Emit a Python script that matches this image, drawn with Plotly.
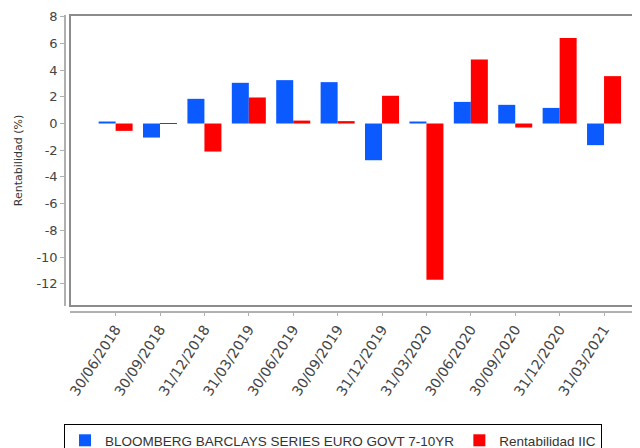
import plotly.graph_objects as go

categories = ["30/06/2018", "30/09/2018", "31/12/2018", "31/03/2019", "30/06/2019",
              "30/09/2019", "31/12/2019", "31/03/2020", "30/06/2020", "30/09/2020",
              "31/12/2020", "31/03/2021"]
benchmark = [0.15, -1.05, 1.85, 3.05, 3.25, 3.1, -2.75, 0.15, 1.62, 1.4, 1.17, -1.62]
fund = [-0.55, -0.03, -2.1, 1.95, 0.22, 0.18, 2.08, -11.7, 4.8, -0.3, 6.4, 3.55]
bench_name = "BLOOMBERG BARCLAYS SERIES EURO GOVT 7-10YR"
fund_name = "Rentabilidad IIC"
y_ticks = [8, 6, 4, 2, 0, -2, -4, -6, -8, -10, -12]

fig = go.Figure()
fig.add_trace(go.Bar(x=categories, y=benchmark, name=bench_name,
                     marker=dict(color="#0a5aff", line=dict(width=0))))
fig.add_trace(go.Bar(x=categories, y=fund, name=fund_name,
                     marker=dict(color="#ff0000", line=dict(width=0))))

fig.update_layout(
    width=640, height=448,
    margin=dict(l=57, r=0, t=7, b=144, autoexpand=False),
    paper_bgcolor="white", plot_bgcolor="white",
    barmode="group", bargap=0.234, bargroupgap=0,
    font=dict(family="DejaVu Sans", color="#444444"),
    showlegend=True,
    legend=dict(orientation="h", xref="container", yref="container",
                x=0.0875, y=0.0714, xanchor="left", yanchor="top",
                bordercolor="#000000", borderwidth=1,
                font=dict(family="Liberation Sans", size=13.5, color="#333333"),
                itemwidth=30, tracegroupgap=0, traceorder="normal"),
    xaxis=dict(type="category", domain=[0.0086, 1], range=[-1.027, 11.99],
               anchor="free", position=0, automargin=False,
               showline=True, linecolor="#b0b0b0", linewidth=1.5,
               ticks="outside", ticklen=3, tickcolor="#b0b0b0",
               tickangle=-57, tickfont=dict(family="DejaVu Sans", size=14, color="#444444"),
               showgrid=False, zeroline=False),
    yaxis=dict(domain=[0.0202, 1], range=[-13.67, 8.13],
               anchor="free", position=0, automargin=False,
               tickvals=y_ticks, ticktext=[str(v) for v in y_ticks],
               showline=True, linecolor="#b0b0b0", linewidth=1.5,
               ticks="outside", ticklen=4, tickcolor="#b0b0b0",
               tickfont=dict(family="DejaVu Sans", size=13, color="#444444"),
               title=dict(text="Rentabilidad (%)", standoff=11,
                          font=dict(family="DejaVu Sans", size=11, color="#333333")),
               showgrid=False, zeroline=False),
    shapes=[dict(type="rect", xref="paper", yref="paper", x0=0.0086, x1=1.05, y0=0.0202, y1=1,
                 line=dict(color="#8c8c8c", width=2), fillcolor="rgba(0,0,0,0)", layer="above")],
)

fig.write_html("out.html")
